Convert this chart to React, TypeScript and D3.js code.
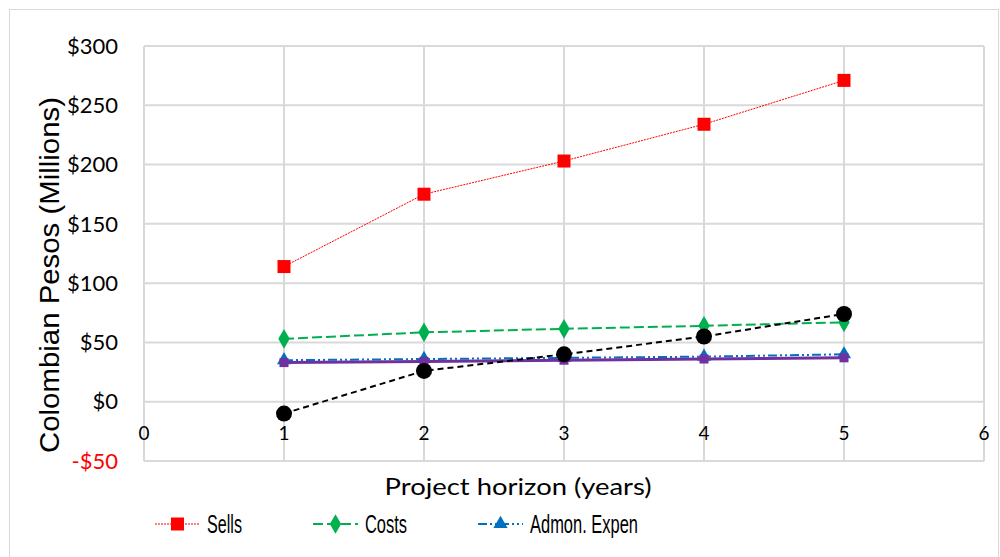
import React, { useEffect, useRef } from "react";
import * as d3 from "d3";

const WIDTH = 1000;
const HEIGHT = 557;

const years = [1, 2, 3, 4, 5];
const xTicks = [0, 1, 2, 3, 4, 5, 6];
const yTicks = [-50, 0, 50, 100, 150, 200, 250, 300];

const sells = [114, 175, 203, 234, 271];
const costs = [53, 58.5, 61.5, 64, 67];
const admonExpen = [35, 36, 37, 38, 40];
const otherExpen = [33, 34, 35, 36, 37];
const netFlow = [-10, 26, 40, 55, 74];

const legendNames = ["Sells", "Costs", "Admon. Expen"];

const series = [
  { name: "Sells", values: sells, color: "#FF0000", width: 1, dash: "2,1", marker: "square", size: 13 },
  { name: "Costs", values: costs, color: "#00B050", width: 2, dash: "10,4", marker: "diamond", size: 15 },
  { name: "Admon. Expen", values: admonExpen, color: "#0070C0", width: 2, dash: "9,3,2,3,2,3", marker: "triangle", size: 12 },
  { name: "Other", values: otherExpen, color: "#7030A0", width: 3, dash: null, marker: "square", size: 9 },
  { name: "Net", values: netFlow, color: "#000000", width: 2, dash: "6,4", marker: "circle", size: 16 },
];

const symbolType = (m) =>
  m === "square"
    ? d3.symbolSquare
    : m === "diamond"
    ? d3.symbolDiamond
    : m === "triangle"
    ? d3.symbolTriangle
    : d3.symbolCircle;

const areaFactor = (m) =>
  m === "circle" ? 0.785 : m === "diamond" ? 0.5 : m === "triangle" ? 0.6 : 1;

function Chart() {
  const ref = useRef(null);

  useEffect(() => {
    if (!ref.current) return;
    const svg = d3.select(ref.current);
    svg.selectAll("*").remove();

    const x = d3.scaleLinear().domain([0, 6]).range([144, 984]);
    const y = d3.scaleLinear().domain([-50, 300]).range([461, 46]);

    svg
      .append("rect")
      .attr("x", 9.5)
      .attr("y", 9.5)
      .attr("width", 989)
      .attr("height", 560)
      .attr("fill", "#fff")
      .attr("stroke", "#D9D9D9")
      .attr("stroke-width", 1);

    const grid = svg.append("g").attr("stroke", "#D9D9D9").attr("stroke-width", 2);
    grid
      .selectAll(".h")
      .data(yTicks)
      .enter()
      .append("line")
      .attr("x1", x(0))
      .attr("x2", x(6))
      .attr("y1", (d) => y(d))
      .attr("y2", (d) => y(d));
    grid
      .selectAll(".v")
      .data(xTicks)
      .enter()
      .append("line")
      .attr("x1", (d) => x(d))
      .attr("x2", (d) => x(d))
      .attr("y1", y(300))
      .attr("y2", y(-50));

    svg
      .append("g")
      .selectAll("text")
      .data(yTicks)
      .enter()
      .append("text")
      .attr("x", 118)
      .attr("y", (d) => y(d))
      .attr("dy", "0.35em")
      .attr("text-anchor", "end")
      .attr("font-family", "Lato, sans-serif")
      .attr("font-size", 22)
      .attr("fill", (d) => (d < 0 ? "#FF0000" : "#000"))
      .text((d) => (d < 0 ? `-$${-d}` : `$${d}`));

    svg
      .append("g")
      .selectAll("text")
      .data(xTicks)
      .enter()
      .append("text")
      .attr("x", (d) => x(d))
      .attr("y", 433)
      .attr("dy", "0.35em")
      .attr("text-anchor", "middle")
      .attr("font-family", "Lato, sans-serif")
      .attr("font-size", 19)
      .text((d) => d);

    svg
      .append("text")
      .attr("x", 518)
      .attr("y", 487)
      .attr("dy", "0.35em")
      .attr("text-anchor", "middle")
      .attr("font-family", "Lato, sans-serif")
      .attr("font-size", 23)
      .attr("textLength", 267)
      .attr("lengthAdjust", "spacingAndGlyphs")
      .text("Project horizon (years)");

    svg
      .append("text")
      .attr("transform", `translate(59 ${275}) rotate(-90)`)
      .attr("text-anchor", "middle")
      .attr("font-family", "'Liberation Sans', Arial, sans-serif")
      .attr("font-size", 28)
      .attr("textLength", 356)
      .attr("lengthAdjust", "spacingAndGlyphs")
      .text("Colombian Pesos (Millions)");

    const line = d3
      .line()
      .x((d) => x(d[0]))
      .y((d) => y(d[1]));

    series.forEach((s) => {
      const pts = years.map((yr, i) => [yr, s.values[i]]);
      const g = svg.append("g");
      g.append("path")
        .attr("d", line(pts))
        .attr("fill", "none")
        .attr("stroke", s.color)
        .attr("stroke-width", s.width)
        .attr("stroke-dasharray", s.dash);
      const sym = d3.symbol().type(symbolType(s.marker)).size(s.size * s.size * areaFactor(s.marker));
      g.selectAll("path.m")
        .data(pts)
        .enter()
        .append("path")
        .attr("class", "m")
        .attr("d", sym)
        .attr("transform", (d) => `translate(${x(d[0])} ${y(d[1])})`)
        .attr("fill", s.color);
    });

    const legendX = [155, 313, 478];
    const legendLen = [35, 42, 108];
    const legend = svg
      .append("g")
      .selectAll("g")
      .data(legendNames)
      .enter()
      .append("g")
      .attr("transform", (_, i) => `translate(${legendX[i]} 524)`);
    legend.each(function (name, i) {
      const s = series[i];
      const g = d3.select(this);
      g.append("line")
        .attr("x1", 0)
        .attr("x2", 45)
        .attr("stroke", s.color)
        .attr("stroke-width", s.width)
        .attr("stroke-dasharray", s.dash);
      const sym = d3.symbol().type(symbolType(s.marker)).size(s.size * s.size * areaFactor(s.marker));
      g.append("path").attr("d", sym).attr("transform", "translate(22.5 0)").attr("fill", s.color);
      g.append("text")
        .attr("x", 52)
        .attr("dy", "0.35em")
        .attr("font-family", "'Liberation Sans', Arial, sans-serif")
        .attr("font-size", 25)
        .attr("textLength", legendLen[i])
        .attr("lengthAdjust", "spacingAndGlyphs")
        .text(name);
    });
  }, []);

  return (
    <svg
      ref={ref}
      width={WIDTH}
      height={HEIGHT}
      style={{ position: "absolute", left: 0, top: 0 }}
    />
  );
}

export default function App() {
  return <Chart />;
}
